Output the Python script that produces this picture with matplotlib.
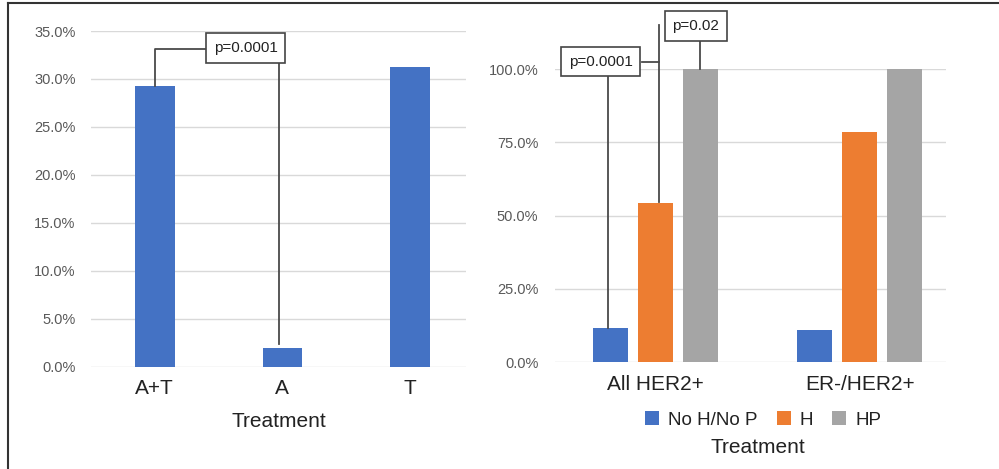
import matplotlib
matplotlib.use("Agg")
import matplotlib.pyplot as plt
import numpy as np
from matplotlib.lines import Line2D
from matplotlib.ticker import PercentFormatter

plt.rcParams['font.family'] = ['Liberation Sans', 'DejaVu Sans']

# left panel: response by treatment
treat_labels = ["A+T", "A", "T"]
treat_values = [0.293, 0.020, 0.312]

# right panel: response by subgroup and HER2 therapy
group_labels = ["All HER2+", "ER-/HER2+"]
series_names = ["No H/No P", "H", "HP"]
no_h_no_p = [0.115, 0.109]
h_only = [0.542, 0.787]
hp = [1.0, 1.0]

BLUE = "#4472C4"
ORANGE = "#ED7D31"
GRAY = "#A5A5A5"
GRID = "#d9d9d9"
TICK = "#595959"
LINE = "#4a4a4a"

fig = plt.figure(figsize=(9.99, 4.69), dpi=100)

# outer frame (top and left edges only)
fig.add_artist(Line2D([0.008, 1.0], [0.9936, 0.9936], transform=fig.transFigure,
                      color="#333333", lw=1.5))
fig.add_artist(Line2D([0.008, 0.008], [0.0, 0.9936], transform=fig.transFigure,
                      color="#333333", lw=1.5))


def style_axes(ax, ypad):
    for s in ax.spines.values():
        s.set_visible(False)
    ax.grid(axis="y", color=GRID, lw=1)
    ax.set_axisbelow(True)
    ax.tick_params(axis="y", length=0, pad=ypad, labelsize=10.5, labelcolor=TICK)
    ax.tick_params(axis="x", length=0, pad=9, labelsize=15, labelcolor="#222222")


def p_box(ax, x, y, text):
    ax.text(x, y, text, ha="center", va="center", fontsize=11, color="#222222",
            bbox=dict(boxstyle="square,pad=0.5", fc="white", ec="#444444", lw=1.2),
            clip_on=False, zorder=5)


def bracket(ax, xs, ys):
    ax.plot(xs, ys, color=LINE, lw=1.3, clip_on=False, zorder=4)


# ---- left panel ----
ax1 = fig.add_axes([0.0911, 0.2175, 0.3754, 0.7164])
x1 = np.arange(len(treat_labels))
ax1.bar(x1, treat_values, width=0.31, color=BLUE, zorder=3)
ax1.set_xlim(-0.5, 2.44)
ax1.set_ylim(0, 0.35)
ax1.set_yticks(np.arange(0, 0.351, 0.05))
ax1.yaxis.set_major_formatter(PercentFormatter(1.0, decimals=1))
ax1.set_xticks(x1)
ax1.set_xticklabels(treat_labels)
style_axes(ax1, 11)
ax1.set_xlabel("Treatment", fontsize=15, color="#222222", labelpad=10)

bracket(ax1, [x1[0], x1[0], 0.39], [treat_values[0], 0.331, 0.331])
bracket(ax1, [0.973, 0.973], [0.318, treat_values[1] + 0.004])
p_box(ax1, 0.714, 0.3323, "p=0.0001")

# ---- right panel ----
ax2 = fig.add_axes([0.5556, 0.2281, 0.3914, 0.6241])
x2 = np.arange(len(group_labels))
w = 0.1716
off = 0.2206
ax2.bar(x2 - off, no_h_no_p, width=w, color=BLUE, label=series_names[0], zorder=3)
ax2.bar(x2, h_only, width=w, color=ORANGE, label=series_names[1], zorder=3)
ax2.bar(x2 + off, hp, width=w, color=GRAY, label=series_names[2], zorder=3)
ax2.set_xlim(-0.493, 1.424)
ax2.set_ylim(0, 1.0)
ax2.set_yticks(np.arange(0, 1.01, 0.25))
ax2.yaxis.set_major_formatter(PercentFormatter(1.0, decimals=1))
ax2.set_xticks(x2)
ax2.set_xticklabels(group_labels)
style_axes(ax2, 12)

# p-value brackets
bracket(ax2, [-off - 0.011, -off - 0.011], [0.975, no_h_no_p[0]])
bracket(ax2, [-0.065, 0.017], [1.026, 1.026])
bracket(ax2, [0.017, 0.017], [1.151, h_only[0] + 0.003])
bracket(ax2, [off - 0.003, off - 0.003], [1.100, hp[0]])
p_box(ax2, -0.27, 1.026, "p=0.0001")
p_box(ax2, 0.196, 1.148, "p=0.02")

fig.legend(loc="center", bbox_to_anchor=(0.764, 0.1045), ncol=3, frameon=False,
           fontsize=13.5, handlelength=0.75, handleheight=0.75, handletextpad=0.5,
           columnspacing=1.0, labelcolor="#222222")
fig.text(0.759, 0.045, "Treatment", ha="center", va="center", fontsize=15,
         color="#222222")

fig.savefig("out.png", dpi=100)
